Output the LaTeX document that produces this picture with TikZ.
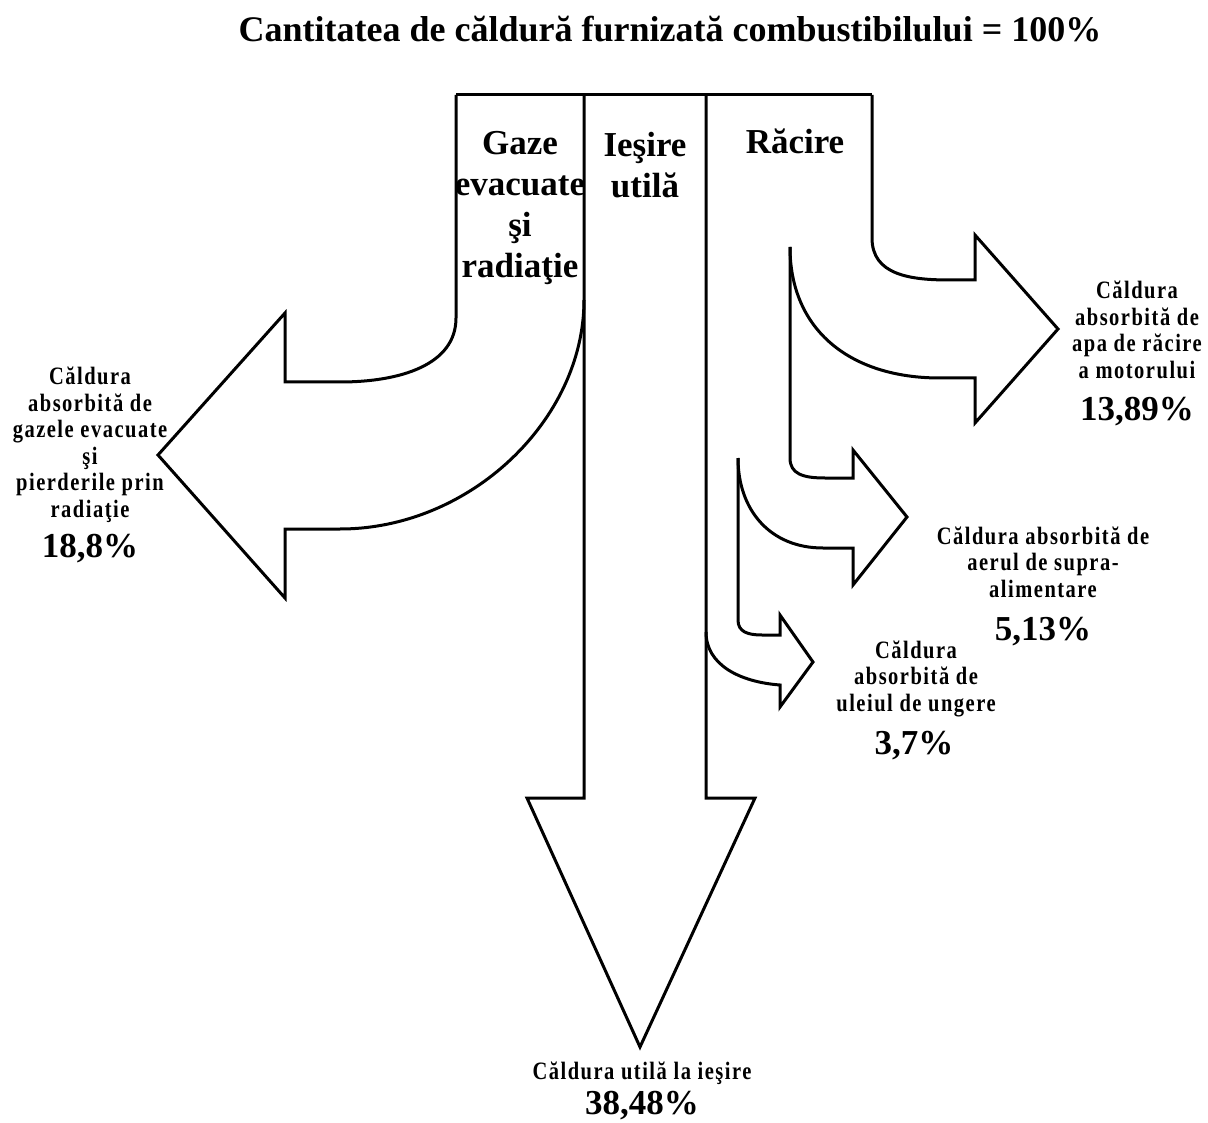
\documentclass[tikz,border=0pt]{standalone}
\usepackage{fontspec}
\setmainfont{Liberation Serif}
\newfontfamily\lblfont[FakeStretch=0.82,LetterSpace=6]{Liberation Serif}
\begin{document}
\begin{tikzpicture}[x=1pt,y=-1pt,
  flow/.style={draw=black,line width=3pt,line join=miter},
  titletext/.style={font=\fontsize{36}{38}\selectfont\bfseries,anchor=base,inner sep=0},
  collbl/.style={font=\fontsize{35}{41}\selectfont\bfseries,align=center,anchor=base,inner sep=0},
  small/.style={font=\lblfont\fontsize{25}{26.5}\selectfont\bfseries,align=center,anchor=base,inner sep=0},
  pct/.style={font=\fontsize{35}{37}\selectfont\bfseries,anchor=base,inner sep=0}]
\useasboundingbox (0,0) rectangle (1208,1123);
\coordinate (TL) at (456,95);
\coordinate (TR) at (872,95);
\coordinate (D1) at (584,95);
\coordinate (D2) at (706,95);
\coordinate (B1) at (790,247);
\coordinate (B2) at (738,458);
% top edge
\draw[flow] (TL) -- (TR);
% exhaust gas arrow (left)
\draw[flow] (TL) -- (456,318) .. controls (456,365) and (400,382) .. (340,382) -- (285,382) -- (285,313) -- (158,455) -- (285,598) -- (285,529) -- (340,529) .. controls (470,529) and (584,420) .. (584,300);
% useful output arrow (down)
\draw[flow] (D1) -- (584,798) -- (527,798) -- (640,1047) -- (755,798) -- (706,798) -- (D2);
% cooling water arrow
\draw[flow] (TR) -- (872,238) .. controls (872,275) and (910,280) .. (950,280) -- (975,280) -- (975,235) -- (1058,329) -- (975,423) -- (975,378) -- (940,378) .. controls (850,378) and (790,330) .. (B1);
% charge air arrow
\draw[flow] (B1) -- (790,458) .. controls (790,474) and (803,478) .. (825,478) -- (853,478) -- (853,450) -- (907,517) -- (853,585) -- (853,548) -- (823,548) .. controls (770,548) and (738,510) .. (B2);
% oil arrow
\draw[flow] (B2) -- (738,620) .. controls (738,632) and (748,635) .. (762,635) -- (780,635) -- (780,615) -- (813,662) -- (780,707) -- (780,685) .. controls (740,682) and (706,665) .. (706,632);
% texts
\node[titletext] (title) at (670,42) {Cantitatea de căldură furnizată combustibilului = 100\%};
\node[collbl] (gaze) at (520,278) {Gaze\\evacuate\\şi\\radiaţie};
\node[collbl] (iesire) at (645,198) {Ieşire\\utilă};
\node[collbl] (racire) at (795,154) {Răcire};
\node[small] (lblL) at (90,517) {Căldura\\absorbită de\\gazele evacuate\\şi\\pierderile prin\\radiaţie};
\node[pct] (pL) at (90,557) {18,8\%};
\node[small] (lblR1) at (1137,378) {Căldura\\absorbită de\\apa de răcire\\a motorului};
\node[pct] (pR1) at (1137,420) {13,89\%};
\node[small] (lblR2) at (1043,597) {Căldura absorbită de\\aerul de supra-\\alimentare};
\node[pct] (pR2) at (1043,640) {5,13\%};
\node[small] (lblR3) at (916,711) {Căldura\\absorbită de\\uleiul de ungere};
\node[pct] (pR3) at (914,754) {3,7\%};
\node[small] (lblB) at (642,1079) {Căldura utilă la ieşire};
\node[pct] (pB) at (642,1114) {38,48\%};
\end{tikzpicture}
\end{document}
